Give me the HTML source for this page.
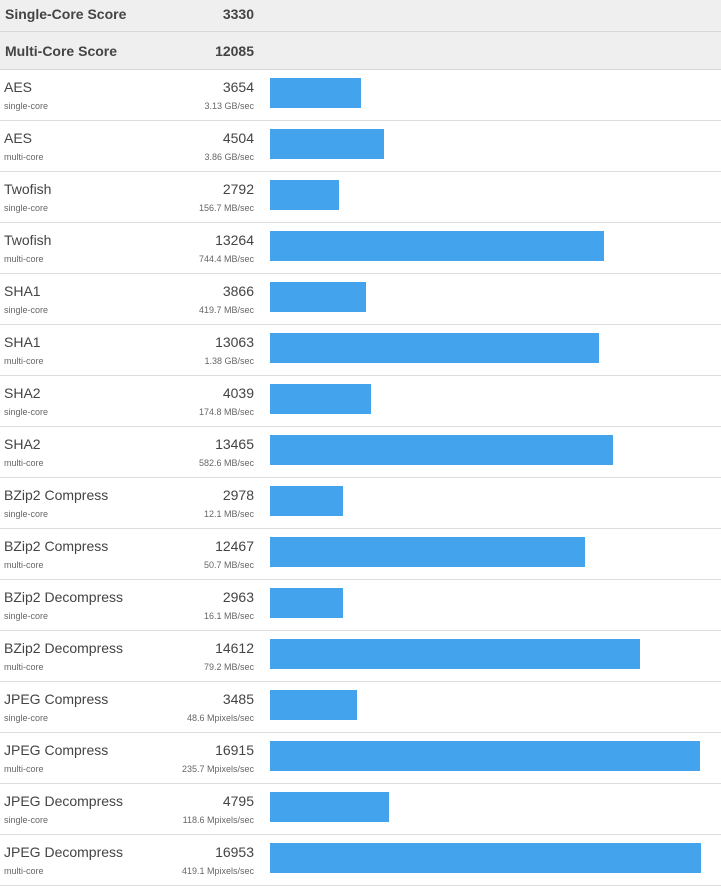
<!DOCTYPE html>
<html><head><meta charset="utf-8"><style>
body{margin:0;width:721px;height:888px;background:#fff;font-family:"Liberation Sans",Arial,sans-serif;overflow:hidden;position:relative}
.h{position:absolute;left:0;width:721px;background:#efefef;border-bottom:1px solid #d8d8d8;box-sizing:border-box;font-weight:bold;font-size:14px;color:#444}
.h .n{position:absolute;left:5px}
.h .v{position:absolute;right:467px}
.r{position:absolute;left:0;width:721px;height:51px;border-bottom:1px solid #ddd;box-sizing:border-box;color:#444}
.r .n{position:absolute;left:4px;top:9px;font-size:14px}
.r .s{position:absolute;left:4px;top:31px;font-size:9px;color:#666}
.r .v{position:absolute;right:467px;top:9px;font-size:14px}
.r .u{position:absolute;right:467px;top:31px;font-size:9px;color:#666}
.r .b{position:absolute;left:270px;top:8px;height:30px;background:#44a3ed}
</style></head><body>
<div class="h" style="top:0;height:32px"><span class="n" style="top:6px">Single-Core Score</span><span class="v" style="top:6px">3330</span></div>
<div class="h" style="top:32px;height:38px"><span class="n" style="top:11px">Multi-Core Score</span><span class="v" style="top:11px">12085</span></div>
<div class="r" style="top:70px"><span class="n">AES</span><span class="s">single-core</span><span class="v">3654</span><span class="u">3.13 GB/sec</span><div class="b" style="width:91px"></div></div>
<div class="r" style="top:121px"><span class="n">AES</span><span class="s">multi-core</span><span class="v">4504</span><span class="u">3.86 GB/sec</span><div class="b" style="width:114px"></div></div>
<div class="r" style="top:172px"><span class="n">Twofish</span><span class="s">single-core</span><span class="v">2792</span><span class="u">156.7 MB/sec</span><div class="b" style="width:69px"></div></div>
<div class="r" style="top:223px"><span class="n">Twofish</span><span class="s">multi-core</span><span class="v">13264</span><span class="u">744.4 MB/sec</span><div class="b" style="width:334px"></div></div>
<div class="r" style="top:274px"><span class="n">SHA1</span><span class="s">single-core</span><span class="v">3866</span><span class="u">419.7 MB/sec</span><div class="b" style="width:96px"></div></div>
<div class="r" style="top:325px"><span class="n">SHA1</span><span class="s">multi-core</span><span class="v">13063</span><span class="u">1.38 GB/sec</span><div class="b" style="width:329px"></div></div>
<div class="r" style="top:376px"><span class="n">SHA2</span><span class="s">single-core</span><span class="v">4039</span><span class="u">174.8 MB/sec</span><div class="b" style="width:101px"></div></div>
<div class="r" style="top:427px"><span class="n">SHA2</span><span class="s">multi-core</span><span class="v">13465</span><span class="u">582.6 MB/sec</span><div class="b" style="width:343px"></div></div>
<div class="r" style="top:478px"><span class="n">BZip2 Compress</span><span class="s">single-core</span><span class="v">2978</span><span class="u">12.1 MB/sec</span><div class="b" style="width:73px"></div></div>
<div class="r" style="top:529px"><span class="n">BZip2 Compress</span><span class="s">multi-core</span><span class="v">12467</span><span class="u">50.7 MB/sec</span><div class="b" style="width:315px"></div></div>
<div class="r" style="top:580px"><span class="n">BZip2 Decompress</span><span class="s">single-core</span><span class="v">2963</span><span class="u">16.1 MB/sec</span><div class="b" style="width:73px"></div></div>
<div class="r" style="top:631px"><span class="n">BZip2 Decompress</span><span class="s">multi-core</span><span class="v">14612</span><span class="u">79.2 MB/sec</span><div class="b" style="width:370px"></div></div>
<div class="r" style="top:682px"><span class="n">JPEG Compress</span><span class="s">single-core</span><span class="v">3485</span><span class="u">48.6 Mpixels/sec</span><div class="b" style="width:87px"></div></div>
<div class="r" style="top:733px"><span class="n">JPEG Compress</span><span class="s">multi-core</span><span class="v">16915</span><span class="u">235.7 Mpixels/sec</span><div class="b" style="width:430px"></div></div>
<div class="r" style="top:784px"><span class="n">JPEG Decompress</span><span class="s">single-core</span><span class="v">4795</span><span class="u">118.6 Mpixels/sec</span><div class="b" style="width:119px"></div></div>
<div class="r" style="top:835px"><span class="n">JPEG Decompress</span><span class="s">multi-core</span><span class="v">16953</span><span class="u">419.1 Mpixels/sec</span><div class="b" style="width:431px"></div></div>
</body></html>
